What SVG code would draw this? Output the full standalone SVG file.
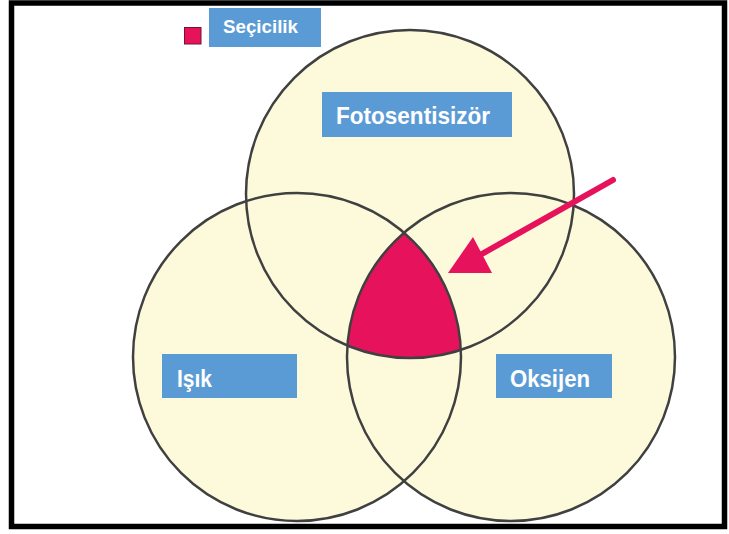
<svg xmlns="http://www.w3.org/2000/svg" width="729" height="534" viewBox="0 0 729 534">
<style>
.fill{fill:#fdfadc;stroke:none}
.ring{fill:none;stroke:#404040;stroke-width:2.5}
.box{fill:#5b9bd5}
.lbl{font-family:"Liberation Sans",Arial,sans-serif;font-weight:bold;fill:#ffffff}
.pink{fill:#e6125c}
</style>
<rect x="0" y="0" width="729" height="534" fill="#ffffff"/>
<rect x="11.5" y="3" width="713" height="523.5" fill="none" stroke="#000000" stroke-width="5.5"/>
<g id="fills">
<circle class="fill" cx="410" cy="194" r="164"/>
<circle class="fill" cx="297" cy="357" r="164"/>
<circle class="fill" cx="511" cy="357" r="164"/>
</g>
<g id="intersection">
<path class="pink" d="M404,233 A164,164 0 0 0 347.4,345.6 A164,164 0 0 0 460.9,349.9 A164,164 0 0 0 404,233 Z"/>
</g>
<g id="fotosentisizor">
<circle class="ring" cx="410" cy="194" r="164"/>
<rect class="box" x="322" y="92" width="190" height="45"/>
<text class="lbl" x="336" y="124" font-size="24" textLength="154" lengthAdjust="spacingAndGlyphs">Fotosentisizör</text>
</g>
<g id="isik">
<circle class="ring" cx="297" cy="357" r="164"/>
<rect class="box" x="162" y="354" width="135" height="44"/>
<text class="lbl" x="177" y="387" font-size="24" textLength="35" lengthAdjust="spacingAndGlyphs">Işık</text>
</g>
<g id="oksijen">
<circle class="ring" cx="511" cy="357" r="164"/>
<rect class="box" x="496" y="354" width="116" height="44"/>
<text class="lbl" x="510" y="387" font-size="24" textLength="80" lengthAdjust="spacingAndGlyphs">Oksijen</text>
</g>
<g id="legend">
<rect class="pink" x="184.5" y="27.5" width="16.5" height="16.5" stroke="#7a1030" stroke-width="1"/>
<rect class="box" x="209" y="8" width="112" height="39"/>
<text class="lbl" x="223" y="33" font-size="18.5" textLength="75" lengthAdjust="spacingAndGlyphs">Seçicilik</text>
</g>
<g id="connectors">
<line x1="613" y1="180" x2="480" y2="255" stroke="#e6125c" stroke-width="6" stroke-linecap="round"/>
<polygon class="pink" points="448,273 473,237 492,273"/>
</g>
</svg>
